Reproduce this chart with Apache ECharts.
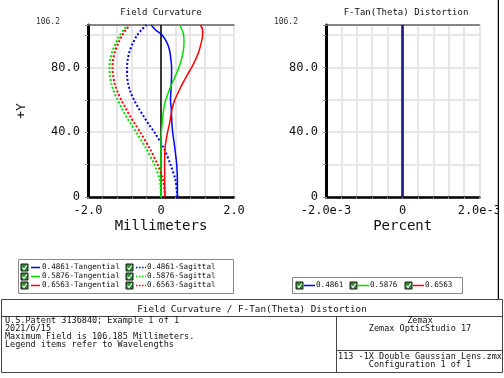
<!DOCTYPE html>
<html><head><meta charset="utf-8">
<script src="https://cdn.jsdelivr.net/npm/echarts@6/dist/echarts.min.js"></script>
<style>html,body{margin:0;padding:0;background:#fff}#c{width:504px;height:378px}</style>
</head><body><div id="c"></div>
<script>
// ---- data ----
const fieldY    = [0, 10, 20, 30, 40, 45, 50, 55, 60, 65, 70, 75, 80, 85, 90, 95, 100, 103, 106.2];
const tanBlue   = [0.45,0.45,0.43,0.38,0.32,0.30,0.29,0.28,0.26,0.27,0.28,0.29,0.29,0.27,0.24,0.17,0.03,-0.14,-0.27];
const sagBlue   = [0.45,0.40,0.26,0.08,-0.18,-0.34,-0.48,-0.62,-0.74,-0.84,-0.90,-0.93,-0.93,-0.91,-0.86,-0.77,-0.65,-0.54,-0.40];
const tanGreen  = [0.00,0.00,0.00,0.00,0.01,0.03,0.05,0.08,0.13,0.21,0.30,0.40,0.49,0.56,0.61,0.63,0.62,0.58,0.51];
const sagGreen  = [0.00,-0.03,-0.18,-0.41,-0.68,-0.82,-0.96,-1.08,-1.19,-1.29,-1.36,-1.40,-1.41,-1.39,-1.33,-1.24,-1.12,-1.03,-0.91];
const tanRed    = [0.11,0.10,0.10,0.11,0.18,0.23,0.27,0.31,0.38,0.48,0.59,0.71,0.84,0.95,1.04,1.10,1.14,1.14,1.08];
const sagRed    = [0.11,0.06,-0.09,-0.31,-0.57,-0.71,-0.85,-0.97,-1.09,-1.19,-1.27,-1.31,-1.33,-1.31,-1.26,-1.17,-1.06,-0.97,-0.85];
const distField = [0, 106.2];
const distBlue  = [0, 0];
const distGreen = [0, 0];
const distRed   = [0, 0];
const wavelengths = ['0.4861', '0.5876', '0.6563'];
const fcTicks   = [-2, 0, 2];
const distTicks = [-0.002, 0, 0.002];
const yTicks    = [0, 40, 80, 106.2];
const maxField  = 106.2;
const infoLeft  = ['U.S.Patent 3136840; Example 1 of 1', '2021/6/15', 'Maximum Field is 106.185 Millimeters.', 'Legend items refer to Wavelengths'];
const infoRightTop = ['Zemax', 'Zemax OpticStudio 17'];
const infoRightBot = ['113 -1X Double Gaussian Lens.zmx', 'Configuration 1 of 1'];
const mainTitle = 'Field Curvature / F-Tan(Theta) Distortion';

// ---- styling ----
const COLORS = ['#0000ff', '#00e000', '#ff0000'];
const MONO = '"DejaVu Sans Mono", "Liberation Mono", monospace';
const pairs = (xs, ys) => ys.map((y, i) => [xs[i], y]);

const chart = echarts.init(document.getElementById('c'), null, {renderer: 'canvas'});

function yAxisCfg(gridIndex, withName) {
  return {
    type: 'value', gridIndex, min: 0, max: maxField, interval: 20,
    name: withName ? '+Y' : '', nameLocation: 'middle', nameRotate: 90, nameGap: 60,
    nameTextStyle: {fontFamily: MONO, fontSize: 13, color: '#111'},
    axisLine: {show: true, onZero: false, lineStyle: {color: '#000', width: 3}},
    axisTick: {show: true, length: 3, lineStyle: {color: '#999'}},
    splitLine: {show: true, lineStyle: {color: '#e6e6e6', width: 2}},
    axisLabel: {
      customValues: yTicks, margin: 8, fontFamily: MONO, fontSize: 12, color: '#111',
      formatter: v => v === maxField ? '{s|106.2}' : (v === 0 ? '0' : v.toFixed(1)),
      rich: {s: {fontFamily: MONO, fontSize: 8, color: '#333', padding: [0, 20, 6, 0]}}
    }
  };
}
function xAxisCfg(gridIndex, min, max, interval, ticks, name, fmt) {
  return {
    type: 'value', gridIndex, min, max, interval, position: 'bottom',
    name, nameLocation: 'middle', nameGap: 22,
    nameTextStyle: {fontFamily: MONO, fontSize: 14, color: '#111'},
    axisLine: {show: true, onZero: false, lineStyle: {color: '#000', width: 2.5}},
    axisTick: {show: true, length: 2, lineStyle: {color: '#888'}},
    splitLine: {show: true, lineStyle: {color: '#e6e6e6', width: 2}},
    axisLabel: {customValues: ticks, margin: 8, fontFamily: MONO, fontSize: 12, color: '#111', formatter: fmt}
  };
}
function topAxis(gridIndex, min, max) {
  return {type: 'value', gridIndex, min, max, position: 'top',
    axisLine: {show: true, onZero: false, lineStyle: {color: '#666', width: 1.5}},
    axisTick: {show: false}, axisLabel: {show: false}, splitLine: {show: false}};
}

const fcSeries = [];
const tanArr = [tanBlue, tanGreen, tanRed], sagArr = [sagBlue, sagGreen, sagRed];
wavelengths.forEach((w, i) => {
  fcSeries.push({type: 'line', name: w + '-Tangential', xAxisIndex: 0, yAxisIndex: 0, z: 6,
    data: pairs(tanArr[i], fieldY), smooth: 0.3, symbol: 'none',
    lineStyle: {color: COLORS[i], width: 1.5}});
  fcSeries.push({type: 'line', name: w + '-Sagittal', xAxisIndex: 0, yAxisIndex: 0, z: 6,
    data: pairs(sagArr[i], fieldY), smooth: 0.3, symbol: 'none',
    lineStyle: {color: COLORS[i], width: 2, type: [2, 2]}});
});
fcSeries[0].markLine = {silent: true, symbol: 'none', label: {show: false}, animation: false, z: 3,
  lineStyle: {color: '#000', width: 1.5, type: 'solid'}, data: [{xAxis: 0}]};

const distArr = [distBlue, distGreen, distRed];
const distSeries = [2, 1, 0].map(i => ({
  type: 'line', name: wavelengths[i], xAxisIndex: 1, yAxisIndex: 1, z: 6,
  data: pairs(distArr[i], distField), symbol: 'none',
  lineStyle: {color: COLORS[i], width: i === 0 ? 1 : 1.3, opacity: i === 0 ? 0.5 : 0.2}
}));
distSeries[0].markLine = {silent: true, symbol: 'none', label: {show: false}, animation: false, z: 3,
  lineStyle: {color: '#101040', width: 2.5, type: 'solid'}, data: [{xAxis: 0}]};

// ---- graphic: titles, legends, info box ----
const G = [];
const txt = (x, y, s, size, align, color) => ({type: 'text', x, y, z: 10, silent: true,
  style: {text: s, font: size + 'px ' + MONO, fill: color || '#111',
    align: align || 'left', textAlign: align || 'left', verticalAlign: 'middle', textVerticalAlign: 'middle'}});
const line = (x1, y1, x2, y2, color, w, dash) => ({type: 'line', z: 10, silent: true,
  shape: {x1, y1, x2, y2}, style: {stroke: color, lineWidth: w, lineDash: dash || null}});
const checkbox = (x, y) => ([
  {type: 'rect', z: 10, silent: true, shape: {x: x, y: y - 3.5, width: 7, height: 7},
    style: {fill: '#2f8f2f', stroke: '#1a1a1a', lineWidth: 1}},
  {type: 'polyline', z: 11, silent: true, shape: {points: [[x + 1.5, y], [x + 3, y + 2], [x + 5.8, y - 2]]},
    style: {stroke: '#fff', lineWidth: 1.1, fill: null}}
]);

G.push(txt(161, 13, 'Field Curvature', 9, 'center'));
G.push(txt(406, 13, 'F-Tan(Theta) Distortion', 9, 'center'));

// left legend
G.push({type: 'rect', z: 9, silent: true, shape: {x: 18.5, y: 259.5, width: 215, height: 34},
  style: {fill: '#fff', stroke: '#888', lineWidth: 1}});
const rowsY = [267.5, 276.5, 285.5];
wavelengths.forEach((w, i) => {
  const y = rowsY[i];
  G.push(...checkbox(21, y));
  G.push(line(31, y, 40, y, COLORS[i], 1.5));
  G.push(txt(42, y, w + '-Tangential', 7.6));
  G.push(...checkbox(126, y));
  G.push(line(136, y, 146, y, COLORS[i], 1.5, [1.5, 1.5]));
  G.push(txt(147, y, w + '-Sagittal', 7.6));
});
// right legend
G.push({type: 'rect', z: 9, silent: true, shape: {x: 292.5, y: 277.5, width: 170, height: 16},
  style: {fill: '#fff', stroke: '#888', lineWidth: 1}});
const rlX = [296, 350, 405];
wavelengths.forEach((w, i) => {
  const x = rlX[i], y = 285.5;
  G.push(...checkbox(x, y));
  G.push(line(x + 8, y, x + 19, y, COLORS[i], 1.5));
  G.push(txt(x + 20, y, w, 7.6));
});

// window right border
G.push({type: 'rect', z: 12, silent: true, shape: {x: 499, y: 0, width: 5, height: 299}, style: {fill: '#fff'}});
G.push(line(499, 0, 499, 299, '#000', 2.5));

// info box
G.push({type: 'rect', z: 9, silent: true, shape: {x: 1.5, y: 299.5, width: 501, height: 73},
  style: {fill: '#fff', stroke: '#444', lineWidth: 1}});
G.push(line(1.5, 316.5, 502.5, 316.5, '#444', 1));
G.push(line(336.5, 316.5, 336.5, 372.5, '#444', 1));
G.push(line(336.5, 350.5, 502.5, 350.5, '#444', 1));
G.push(txt(252, 309.5, mainTitle, 9.3, 'center'));
infoLeft.forEach((s, i) => G.push(txt(5, 321 + i * 8, s, 8.5)));
infoRightTop.forEach((s, i) => G.push(txt(420, 321 + i * 8, s, 8.5, 'center')));
infoRightBot.forEach((s, i) => G.push(txt(420, 357 + i * 8, s, 8.5, 'center')));

chart.setOption({
  animation: false,
  backgroundColor: '#fff',
  grid: [
    {left: 88, right: 270, top: 25, bottom: 181, show: false},
    {left: 326, right: 19, top: 25, bottom: 181, show: false}
  ],
  xAxis: [
    xAxisCfg(0, -2, 2, 0.4, fcTicks, 'Millimeters', v => v === 0 ? '0' : v.toFixed(1)),
    xAxisCfg(1, -0.002, 0.002, 0.0004, distTicks, 'Percent', v => v === 0 ? '0' : (v * 1000).toFixed(1) + 'e-3'),
    topAxis(0, -2, 2),
    topAxis(1, -0.002, 0.002)
  ],
  yAxis: [yAxisCfg(0, true), yAxisCfg(1, false)],
  series: fcSeries.concat(distSeries),
  graphic: G
});
</script></body></html>
